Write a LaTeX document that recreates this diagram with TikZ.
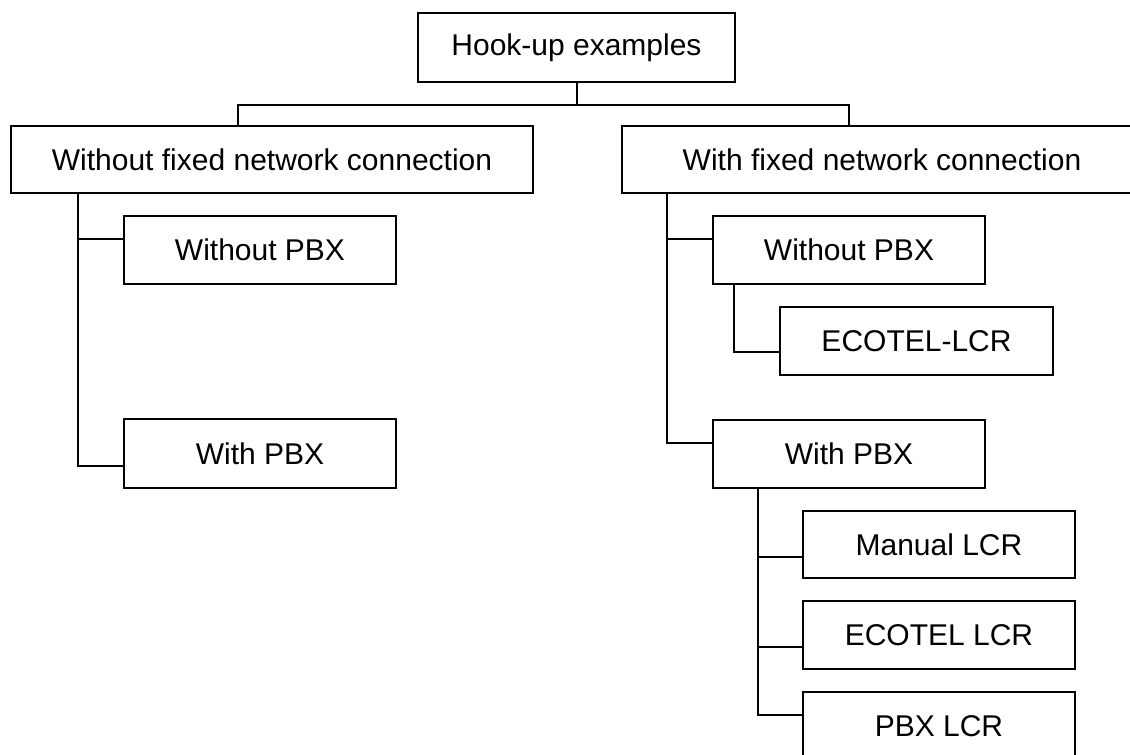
\documentclass[tikz,border=0pt]{standalone}
\usepackage{fontspec}
\setmainfont{Liberation Sans}
\usetikzlibrary{calc}

\begin{document}
\begin{tikzpicture}[x=1pt, y=-1pt,
  box/.style={draw=black, line width=2pt, fill=white, inner sep=0pt,
    minimum height=68pt, font=\fontsize{30}{36}\selectfont},
  smallbox/.style={box, minimum width=272pt},
  wire/.style={draw=black, line width=2pt}]
  \useasboundingbox (0,0) rectangle (1130,755);
  \clip (0,0) rectangle (1130,755);

  % tree nodes
  \node[box, minimum width=317pt, minimum height=69pt] (root) at (576.5,47.5) {Hook-up examples};
  \node[box, minimum width=522pt, minimum height=67pt] (wf) at (272,159.5) {Without fixed network connection};
  \node[box, minimum width=520pt, minimum height=67pt] (wfx) at (882,159.5) {With fixed network connection};
  \node[smallbox] (lwo) at (260,250) {Without PBX};
  \node[smallbox, minimum height=69pt] (lw) at (260,453.5) {With PBX};
  \node[smallbox] (rwo) at (849,250) {Without PBX};
  \node[smallbox, minimum width=273pt] (ecl) at (916.5,341) {ECOTEL-LCR};
  \node[smallbox] (rw) at (849,454) {With PBX};
  \node[smallbox, minimum height=67pt] (man) at (939,544.5) {Manual LCR};
  \node[smallbox] (eco) at (939,635) {ECOTEL LCR};
  \node[smallbox] (pbx) at (939,726) {PBX LCR};

  % top bus
  \coordinate (bus) at ($(root.south)+(0,22)$);
  \draw[wire] (root.south) -- (bus);
  \draw[wire] ($(wf.north)+(-34,0)$) |- (bus) -| ($(wfx.north)+(-33,0)$);

  % left branch
  \draw[wire] ($(wf.south west)+(68,0)$) |- ($(lw.west)+(0,12.5)$);
  \draw[wire] ($(lwo.west)+(0,-11)$) -| ($(wf.south west)+(68,0)$);

  % right branch
  \draw[wire] ($(wfx.south west)+(46,0)$) |- ($(rw.west)+(0,-11)$);
  \draw[wire] ($(rwo.west)+(0,-11)$) -| ($(wfx.south west)+(46,0)$);
  \draw[wire] ($(rwo.south west)+(22,0)$) |- ($(ecl.west)+(0,11)$);

  % PBX options
  \draw[wire] ($(rw.south west)+(45.5,0)$) |- ($(pbx.west)+(0,-11)$);
  \draw[wire] ($(man.west)+(0,12.5)$) -| ($(rw.south west)+(45.5,0)$);
  \draw[wire] ($(eco.west)+(0,12)$) -| ($(rw.south west)+(45.5,0)$);
\end{tikzpicture}
\end{document}
